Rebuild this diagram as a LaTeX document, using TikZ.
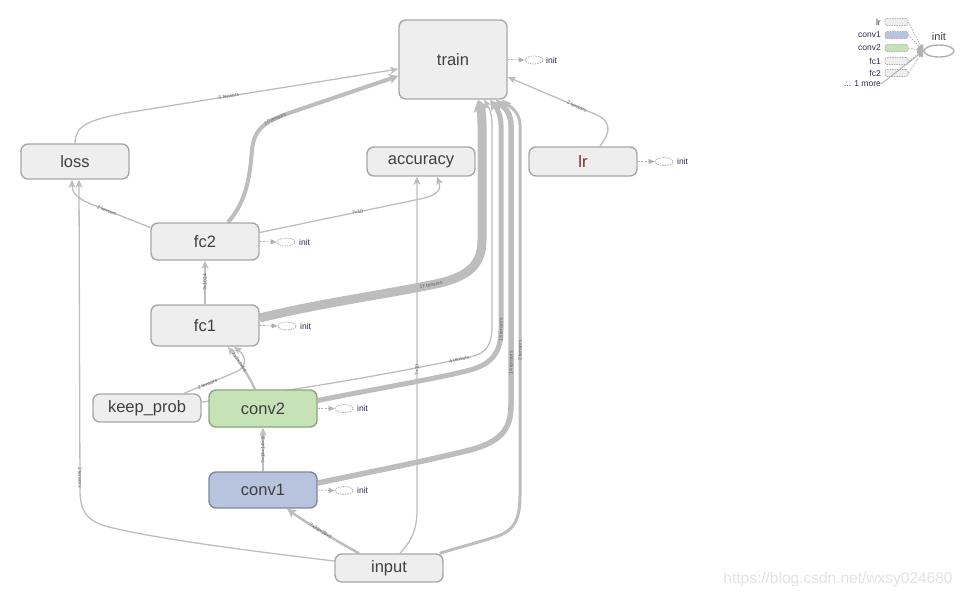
\documentclass[tikz,border=0pt]{standalone}
\usepackage{fontspec}
\setmainfont{Liberation Sans}
\usetikzlibrary{arrows.meta,shapes.geometric,calc}
\pgfdeclarelayer{bg}
\pgfsetlayers{bg,main}
\definecolor{edgec}{HTML}{BDBDBD}
\definecolor{nodefill}{HTML}{EEEEEE}
\definecolor{nodeborder}{HTML}{A8A8A8}
\definecolor{greenfill}{HTML}{C6E2B7}
\definecolor{greenborder}{HTML}{8DA47F}
\definecolor{bluefill}{HTML}{B8C3DD}
\definecolor{blueborder}{HTML}{7D879E}
\definecolor{textc}{HTML}{404040}
\definecolor{lrc}{HTML}{7A2A2A}
\definecolor{labc}{HTML}{606060}
\definecolor{initc}{HTML}{B0B0B0}
\definecolor{inittextc}{HTML}{2A2A50}
\definecolor{wmc}{HTML}{E2E2E2}
\tikzset{
 opnode/.style={draw=nodeborder, line width=1.4pt, fill=nodefill, rounded corners=7pt, minimum width=108pt, inner sep=0pt, text=textc, font=\fontsize{16.5}{17}\selectfont},
 conn/.style={draw=edgec, line width=1.3pt, -{Stealth[length=8pt,width=7pt,inset=2pt]}},
 elab/.style={font=\fontsize{5}{5.5}\selectfont, text=labc, sloped, inner sep=0.6pt},
 initell/.style={ellipse, draw=initc, dash pattern=on 1.5pt off 1pt, line width=0.8pt, minimum width=18pt, minimum height=8pt, inner sep=0pt},
 inittxt/.style={font=\fontsize{8.5}{9}\selectfont, text=inittextc, anchor=west, inner sep=0pt},
 initarr/.style={draw=initc, line width=0.9pt, dash pattern=on 2pt off 1.5pt, -{Triangle[length=6pt,width=5pt]}},
 legtxt/.style={font=\fontsize{8.5}{9}\selectfont, text=inittextc, anchor=east, inner sep=0pt},
 legsw/.style={draw=initc, dash pattern=on 1.5pt off 1pt, line width=0.7pt, rounded corners=2pt, minimum width=23pt, minimum height=7pt, inner sep=0pt},
 legline/.style={draw=initc, line width=0.8pt, dash pattern=on 1.5pt off 1.2pt, -{Triangle[length=6pt,width=6pt]}},
}
\begin{document}
\begin{tikzpicture}[x=1pt,y=-1pt]
\useasboundingbox (0,0) rectangle (963,598);
% main nodes
\node[opnode, minimum height=79pt] (train) at (453,59.5) {train};
\node[opnode, minimum height=35pt] (loss) at (75,161.5) {loss};
\node[opnode, minimum height=29pt] (accuracy) at (421,161.5) {accuracy};
\node[opnode, minimum height=29pt, text=lrc] (lr) at (583,161.5) {lr};
\node[opnode, minimum height=37pt] (fc2) at (205,241.5) {fc2};
\node[opnode, minimum height=41pt] (fc1) at (205,325.5) {fc1};
\node[opnode, minimum height=28pt] (keep) at (147,408) {keep\_prob};
\node[opnode, minimum height=37pt, fill=greenfill, draw=greenborder] (conv2) at (263,408.5) {conv2};
\node[opnode, minimum height=36pt, fill=bluefill, draw=blueborder] (conv1) at (263,490) {conv1};
\node[opnode, minimum height=28pt] (input) at (389,568) {input};

\begin{pgfonlayer}{bg}
% loss -> train
\draw[conn] (loss.north) .. controls (75,126) and (88,120) .. (125,113) -- node[elab, pos=0.38]{5 tensors} ($(train.west)+(0,9.5)$);
% fc2 -> train
\draw[conn, line width=4pt, -{Stealth[length=9pt,width=10pt,inset=2pt]}] ($(fc2.north)+(23,0)$) .. controls (248,200) and (250,172) .. (252,150) .. controls (254,128) and (266,121) .. node[elab,pos=0.75]{10 tensors} (292,112) -- ($(train.west)+(0,16.5)$);
% fc2 -> loss
\draw[conn] ($(fc2.west)+(0,-14)$) -- node[elab,pos=0.8]{2 tensors} (96,206) .. controls (76,199) and (72,192) .. ($(loss.south)+(-3,0)$);
% fc2 -> accuracy
\draw[conn] ($(fc2.east)+(0,-9)$) -- node[elab,pos=0.61]{?×10} (420,199) .. controls (440,195) and (441,188) .. ($(accuracy.south)+(16,0)$);
% fc1 -> fc2
\draw[conn] (fc1.north) -- node[elab]{?×1024} (fc2.south);
% fc1 -> train
\draw[conn, line width=9pt, -{Stealth[length=11pt,width=16pt,inset=2pt]}] ($(fc1.east)+(0,-7.5)$) .. controls (320,303) and (400,292) .. node[elab,pos=0.93]{17 tensors} (440,283) .. controls (468,276) and (482,265) .. (482,240) -- (482,125) .. controls (482,112) and (480,106) .. ($(train.south)+(25,0)$);
% keep_prob -> train
\draw[conn] ($(keep.east)+(0,-6)$) .. controls (300,390) and (400,372) .. node[elab,pos=0.95]{4 tensors} (470,357) .. controls (487,353) and (492,345) .. (492,325) -- (492,125) .. controls (492,112) and (488,106) .. ($(train.south)+(31,0)$);
% conv2 -> train
\draw[conn, line width=5pt, -{Stealth[length=10pt,width=11pt,inset=2pt]}] ($(conv2.east)+(0,-8)$) .. controls (380,388) and (440,378) .. (470,370) .. controls (492,364) and (501,352) .. (501,330) -- node[elab,pos=0.0]{13 tensors} (501,125) .. controls (501,112) and (494,105) .. ($(train.south)+(37,0)$);
% conv1 -> train
\draw[conn, line width=5.5pt, -{Stealth[length=10pt,width=12pt,inset=2pt]}] ($(conv1.east)+(0,-7)$) .. controls (380,470) and (430,460) .. (470,450) .. controls (500,442) and (511,430) .. (511,405) -- node[elab,pos=0.15]{14 tensors} (511,125) .. controls (511,110) and (500,104) .. ($(train.south)+(43,0)$);
% input -> train
\draw[conn, line width=3pt, -{Stealth[length=9pt,width=9pt,inset=2pt]}] ($(input.north east)+(-4,0)$) .. controls (460,547) and (480,542) .. (498,536) .. controls (514,530) and (520,520) .. (520,495) -- node[elab,pos=0.39]{2 tensors} (520,125) .. controls (520,110) and (506,104) .. ($(train.south)+(49,0)$);
% input -> conv1
\draw[conn, line width=2.5pt, -{Stealth[length=9pt,width=9pt,inset=2pt]}] ($(input.north)+(-30,0)$) .. controls (335,540) and (305,522) .. node[elab]{?×28×28×1} ($(conv1.south)+(24,0)$);
% conv1 -> conv2
\draw[conn, line width=1.8pt] (conv1.north) -- node[elab]{?×14×14×32} (conv2.south);
% input -> accuracy
\draw[conn] ($(input.north)+(11,0)$) .. controls (410,542) and (417,532) .. (417,510) -- node[elab,pos=0.42]{?×10} ($(accuracy.south)+(-4,0)$);
% input -> loss
\draw[conn] ($(input.west)+(0,-7)$) .. controls (250,551) and (150,538) .. (105,526) .. controls (86,520) and (80,510) .. (80,490) -- node[elab,pos=0.04]{2 tensors} ($(loss.south)+(4,0)$);
% lr -> train
\draw[conn] ($(lr.north)+(17,0)$) .. controls (612,130) and (612,120) .. (590,112) -- node[elab,pos=0.16]{2 tensors} ($(train.east)+(0,17.5)$);
% keep_prob -> fc1
\draw[conn] ($(keep.north)+(37,0)$) -- node[elab,pos=0.45]{2 tensors} (236,372) .. controls (248,366) and (246,356) .. ($(fc1.south)+(29,0)$);
% conv2 -> fc1
\draw[conn, line width=2.2pt] ($(conv2.north)+(-8,0)$) .. controls (248,374) and (238,360) .. node[elab,pos=0.62]{?×7×7×64} ($(fc1.south)+(23,0)$);
\end{pgfonlayer}

% init markers
\node[initell] (trainI) at (534,60) {};
\node[inittxt] (trainIt) at (546,60) {init};
\draw[initarr] (train.east) -- (trainI.west);
\node[initell] (lrI) at (664,161.5) {};
\node[inittxt] (lrIt) at (677,161.5) {init};
\draw[initarr] (lr.east) -- (lrI.west);
\node[initell] (fc2I) at (286,242) {};
\node[inittxt] (fc2It) at (299,242) {init};
\draw[initarr] (fc2.east) -- (fc2I.west);
\node[initell] (fc1I) at (287,326) {};
\node[inittxt] (fc1It) at (300,326) {init};
\draw[initarr] (fc1.east) -- (fc1I.west);
\node[initell] (conv2I) at (344,408.5) {};
\node[inittxt] (conv2It) at (357,408.5) {init};
\draw[initarr] (conv2.east) -- (conv2I.west);
\node[initell] (conv1I) at (344,490.5) {};
\node[inittxt] (conv1It) at (357,490.5) {init};
\draw[initarr] (conv1.east) -- (conv1I.west);

% legend (top right)
\node[ellipse, draw=initc, line width=1.4pt, minimum width=30pt, minimum height=12pt, inner sep=0pt] (legI) at (939,51) {};
\node[font=\fontsize{11}{12}\selectfont, text=textc, inner sep=0pt] (legIt) at (939,37) {init};
\node[legtxt] (lgt1) at (881,22) {lr};
\node[legtxt] (lgt2) at (881,35) {conv1};
\node[legtxt] (lgt3) at (881,48) {conv2};
\node[legtxt] (lgt4) at (881,61) {fc1};
\node[legtxt] (lgt5) at (881,73) {fc2};
\node[legtxt] (lgt6) at (881,84) {... 1 more};
\node[legsw, fill=nodefill] (lgs1) at (896.5,22) {};
\node[legsw, fill=bluefill] (lgs2) at (896.5,35) {};
\node[legsw, fill=greenfill] (lgs3) at (896.5,48) {};
\node[legsw, fill=nodefill] (lgs4) at (896.5,61) {};
\node[legsw, fill=nodefill] (lgs5) at (896.5,73) {};
\coordinate (lgend) at ($(legI.west)+(0,0)$);
\draw[legline] (lgs1.east) -- (lgend);
\draw[legline] (lgs2.east) -- (lgend);
\draw[legline] (lgs3.east) -- (lgend);
\draw[legline] (lgs4.east) -- (lgend);
\draw[legline] (lgs5.east) -- (lgend);
\draw[draw=initc, line width=0.9pt] (lgt6.east) -- (lgend);

% watermark
\node[font=\fontsize{15.5}{16}\selectfont, text=wmc, inner sep=0pt] (wm) at (838,579) {https://blog.csdn.net/wxsy024680};
\end{tikzpicture}
\end{document}
